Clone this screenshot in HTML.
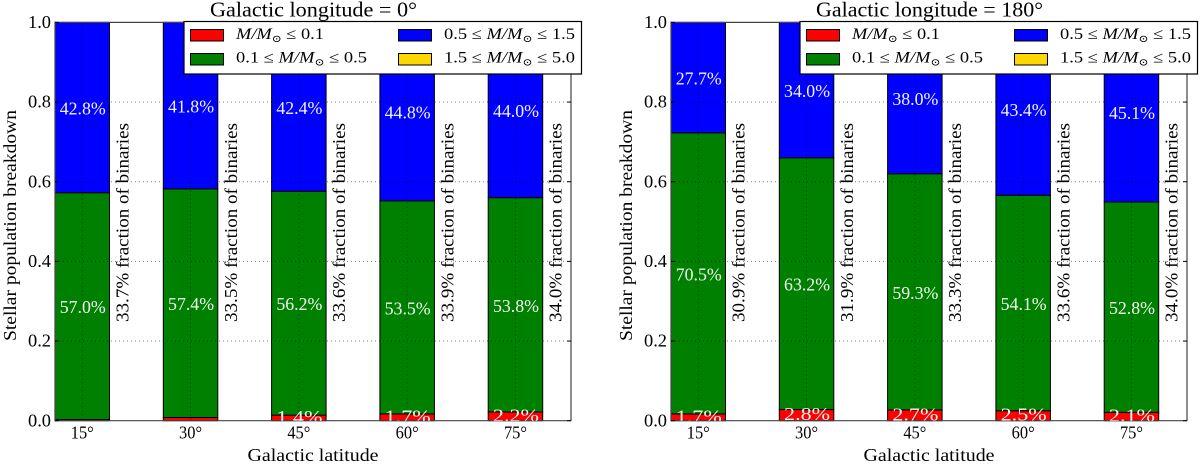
<!DOCTYPE html>
<html lang="en">
<head>
<meta charset="utf-8">
<title>Stellar population breakdown</title>
<style>
html,body{margin:0;padding:0;background:#fff;width:1200px;height:465px;overflow:hidden}
svg{display:block;font-family:"Liberation Serif","DejaVu Serif",serif}
</style>
</head>
<body>
<svg id="chart" xmlns="http://www.w3.org/2000/svg" width="1200" height="465" viewBox="0 0 1200 465"></svg>
<script>
const latitudeLabels = ['15°', '30°', '45°', '60°', '75°'];
const yTickValues = [0, 0.2, 0.4, 0.6, 0.8, 1];
const yTickLabels = ['0.0', '0.2', '0.4', '0.6', '0.8', '1.0'];

const redLon0 = [0.3, 0.8, 1.4, 1.7, 2.2];
const greenLon0 = [57.0, 57.4, 56.2, 53.5, 53.8];
const blueLon0 = [42.8, 41.8, 42.4, 44.8, 44.0];
const goldLon0 = [0, 0, 0, 0, 0];
const binariesLon0 = [33.7, 33.5, 33.6, 33.9, 34.0];

const redLon180 = [1.7, 2.8, 2.7, 2.5, 2.1];
const greenLon180 = [70.5, 63.2, 59.3, 54.1, 52.8];
const blueLon180 = [27.7, 34.0, 38.0, 43.4, 45.1];
const goldLon180 = [0, 0, 0, 0, 0];
const binariesLon180 = [30.9, 31.9, 33.3, 33.6, 34.0];

const titleLon0 = 'Galactic longitude = 0°';
const titleLon180 = 'Galactic longitude = 180°';

const svg = document.getElementById('chart');
const NS = 'http://www.w3.org/2000/svg';
const TOP = 22.4, BOTTOM = 420.7, AXW = 516, STEP = 108.3, BARW = 54.5;

function yScale(v) { return BOTTOM - (BOTTOM - TOP) * v; }
function barLeft(x0, i) { return x0 + i * STEP; }

function make(parent, tag, attrs, name, interactable) {
  const el = document.createElementNS(NS, tag);
  for (const k in attrs) el.setAttribute(k, attrs[k]);
  
  
  parent.appendChild(el);
  return el;
}
function text(parent, str, attrs, name) {
  const el = make(parent, 'text', attrs, name, false);
  el.textContent = str;
  return el;
}
function massLabel(parent, x, y, lo, hi, len, name) {
  const t = make(parent, 'text', { x: x, y: y, 'font-size': 15.5, fill: '#000', textLength: len, lengthAdjust: 'spacingAndGlyphs' }, name, false);
  const add = (s, style) => {
    const sp = document.createElementNS(NS, 'tspan');
    for (const k in style) sp.setAttribute(k, style[k]);
    sp.textContent = s;
    t.appendChild(sp);
  };
  if (lo) add(lo + ' ≤ ', {});
  add('M/M', { 'font-style': 'italic' });
  add('⊙', { 'font-size': 10, dy: 3 });
  add(' ≤ ' + hi, { dy: -3 });
}

function panel(key, x0, title, titleLen, red, green, blue, gold, binaries) {
  const g = make(svg, 'g', {}, 'panel-' + key, false);
  const xR = x0 + AXW;
  const clip = make(g, 'clipPath', { id: 'clip-' + key }, 'plot-clip-' + key, false);
  make(clip, 'rect', { x: x0, y: TOP, width: AXW, height: BOTTOM - TOP }, 'plot-clip-rect-' + key, false);

  latitudeLabels.forEach((lab, i) => {
    const x = barLeft(x0, i);
    let acc = 0;
    const series = [
      { vals: red, color: '#ff0000', n: 'red' },
      { vals: green, color: '#008000', n: 'green' },
      { vals: blue, color: '#0000ff', n: 'blue' },
      { vals: gold, color: '#ffd700', n: 'gold' }
    ];
    const total = red[i] + green[i] + blue[i] + gold[i];
    series.forEach(s => {
      const a = acc / total, b = (acc + s.vals[i]) / total;
      acc += s.vals[i];
      make(g, 'rect', {
        x: x, y: yScale(b), width: BARW, height: Math.max(0, yScale(a) - yScale(b)),
        fill: s.color, stroke: '#000', 'stroke-width': 1
      }, 'bar-' + s.n + '-' + key + '-' + lab.replace('°', ''), false);
    });
  });

  const grid = make(g, 'g', { stroke: '#000', 'stroke-width': 1, 'stroke-dasharray': '1 3', 'stroke-opacity': 0.5 }, 'grid-' + key, false);
  yTickValues.slice(1, 5).forEach(v => {
    make(grid, 'line', { x1: x0, x2: xR, y1: yScale(v), y2: yScale(v) }, 'grid-line-y-' + key, false);
  });
  latitudeLabels.forEach((lab, i) => {
    const cx = barLeft(x0, i) + BARW / 2;
    make(grid, 'line', { x1: cx, x2: cx, y1: TOP, y2: BOTTOM }, 'grid-line-x-' + key, false);
  });

  make(g, 'path', {
    d: 'M' + x0 + ' ' + BOTTOM + 'H' + xR + 'V' + TOP + 'H' + x0 + 'Z',
    fill: 'none', stroke: '#444', 'stroke-width': 1.2
  }, 'axes-frame-' + key, false);

  yTickValues.forEach((v, i) => {
    const y = yScale(v);
    make(g, 'line', { x1: x0, x2: x0 + 4, y1: y, y2: y, stroke: '#000' }, 'y-tick-left-' + key, false);
    make(g, 'line', { x1: xR - 4, x2: xR, y1: y, y2: y, stroke: '#000' }, 'y-tick-right-' + key, false);
    text(g, yTickLabels[i], { x: x0 - 4, y: y + 5.6, 'text-anchor': 'end', 'font-size': 18, textLength: 23, lengthAdjust: 'spacingAndGlyphs' }, 'y-tick-label-' + key);
  });

  const labels = make(g, 'g', { 'clip-path': 'url(#clip-' + key + ')', fill: '#fff', 'font-size': 18, 'text-anchor': 'middle', 'fill-opacity': 0.95 }, 'percent-labels-' + key, false);
  latitudeLabels.forEach((lab, i) => {
    const cx = barLeft(x0, i) + BARW / 2 + 0.5;
    const total = red[i] + green[i] + blue[i] + gold[i];
    let acc = 0;
    [red, green, blue].forEach((vals, k) => {
      const v = vals[i];
      const mid = (acc + v / 2) / total;
      acc += v;
      if (v >= 1) {
        text(labels, v.toFixed(1) + '%', { x: cx, y: yScale(mid) + (k === 0 ? 5 : 7), textLength: 46, lengthAdjust: 'spacingAndGlyphs' }, 'percent-label-' + ['red', 'green', 'blue'][k]);
      }
    });
    text(g, lab, { x: cx - 0.5, y: 438.5, 'text-anchor': 'middle', 'font-size': 18, textLength: 23, lengthAdjust: 'spacingAndGlyphs' }, 'x-tick-label-' + key);

    const bx = barLeft(x0, i) + 73.5;
    text(g, binaries[i].toFixed(1) + '% fraction of binaries', {
      x: 0, y: 0, 'text-anchor': 'middle', 'font-size': 18, textLength: 199, lengthAdjust: 'spacingAndGlyphs',
      transform: 'translate(' + bx + ' 222.5) rotate(-90)'
    }, 'binary-fraction-label-' + key);
  });

  text(g, title, { x: x0 + AXW / 2 + 0.5, y: 16.5, 'text-anchor': 'middle', 'font-size': 21.5, textLength: titleLen, lengthAdjust: 'spacingAndGlyphs' }, 'chart-title-' + key);
  text(g, 'Galactic latitude', { x: x0 + AXW / 2, y: 461, 'text-anchor': 'middle', 'font-size': 18, textLength: 131, lengthAdjust: 'spacingAndGlyphs' }, 'x-axis-title-' + key);
  text(g, 'Stellar population breakdown', {
    x: 0, y: 0, 'text-anchor': 'middle', 'font-size': 18, textLength: 231, lengthAdjust: 'spacingAndGlyphs',
    transform: 'translate(' + (x0 - 39) + ' 225.5) rotate(-90)'
  }, 'y-axis-title-' + key);

  const lx = x0 + 129;
  const leg = make(g, 'g', {}, 'legend-' + key, false);
  make(leg, 'rect', { x: lx, y: 21.5, width: 397.5, height: 52.5, fill: '#fff', stroke: '#000', 'stroke-width': 1.2 }, 'legend-box-' + key, false);
  const swatch = (x, y, fill, stroke, name) => {
    make(leg, 'rect', { x: x, y: y, width: 33, height: 11.5, fill: fill, stroke: stroke, 'stroke-width': 1 }, name, false);
  };
  swatch(lx + 6.5, 29.5, '#ff0000', '#000', 'legend-swatch-red-' + key);
  swatch(lx + 6.5, 53.5, '#008000', '#000', 'legend-swatch-green-' + key);
  swatch(lx + 214.5, 29.5, '#0000ff', '#000', 'legend-swatch-blue-' + key);
  swatch(lx + 214.5, 53.5, '#ffd700', '#000', 'legend-swatch-gold-' + key);
  massLabel(leg, lx + 52, 39, '', '0.1', 88, 'legend-label-red-' + key);
  massLabel(leg, lx + 52, 62.5, '0.1', '0.5', 131, 'legend-label-green-' + key);
  massLabel(leg, lx + 260, 39, '0.5', '1.5', 131, 'legend-label-blue-' + key);
  massLabel(leg, lx + 260, 62.5, '1.5', '5.0', 131, 'legend-label-gold-' + key);
}

panel('lon0', 55, titleLon0, 207, redLon0, greenLon0, blueLon0, goldLon0, binariesLon0);
panel('lon180', 671, titleLon180, 227, redLon180, greenLon180, blueLon180, goldLon180, binariesLon180);
</script>
</body>
</html>
